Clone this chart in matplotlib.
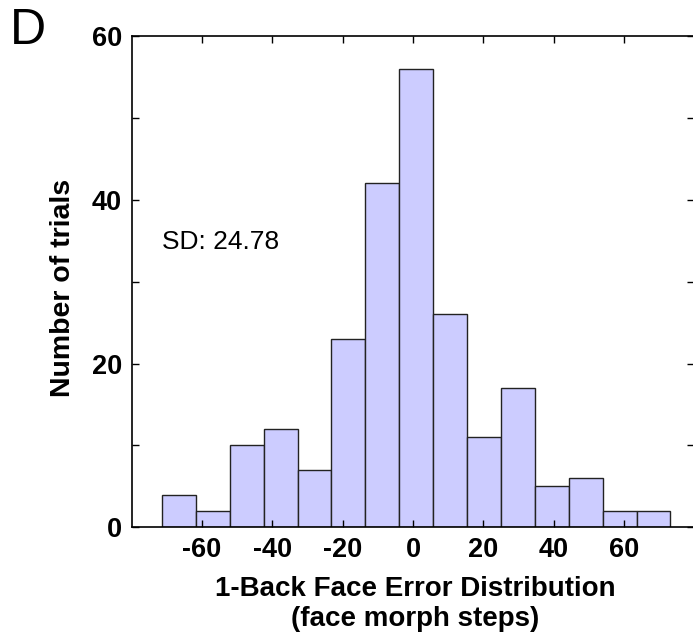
#1-back face error histogram
import numpy as np
import matplotlib
matplotlib.use('Agg')
import matplotlib.pyplot as plt

plt.rcParams['font.family']=['Liberation Sans','DejaVu Sans']

#histogram counts per bin (15 bins)
counts=[4,2,10,12,7,23,42,56,26,11,17,5,6,2,2]
bin_start=-71.4
bin_end=73.2
sd_text='SD: 24.78'
xticks=[-60,-40,-20,0,20,40,60]
yticks=[0,20,40,60]

edges=np.linspace(bin_start,bin_end,len(counts)+1)

fig=plt.figure(figsize=(6.93,6.32),dpi=100)
ax=fig.add_axes([0.190,0.1657,0.812,0.7773])

ax.bar(edges[:-1],counts,width=np.diff(edges),align='edge',
       color='#ccccff',edgecolor='#222222',linewidth=1.0)

ax.set_xlim(-80,80)
ax.set_ylim(0,60)
ax.set_xticks(xticks)
ax.set_xticklabels([str(t) for t in xticks])
ax.set_yticks(range(0,61,10))
ax.set_yticklabels([str(t) if t in yticks else '' for t in range(0,61,10)])
ax.tick_params(direction='in',length=5,width=1,top=True,right=True,
               labelsize=19.5,pad=7)
for lab in ax.get_xticklabels()+ax.get_yticklabels():
    lab.set_fontweight('bold')
for s in ax.spines.values():
    s.set_linewidth(1.2)

ax.text(-71.4,34.8,sd_text,fontsize=19,ha='left',va='center')

fig.text(63.5/693,1-288/632,'Number of trials',rotation=90,fontsize=20.5,
         fontweight='bold',ha='center',va='center')
fig.text(415/693,1-604/632,'1-Back Face Error Distribution\n(face morph steps)',
         fontsize=20,fontweight='bold',ha='center',va='center',linespacing=1.25)
fig.text(10/693,1-8/632,'D',fontsize=36,ha='left',va='top')

fig.savefig('out.png',dpi=100)
